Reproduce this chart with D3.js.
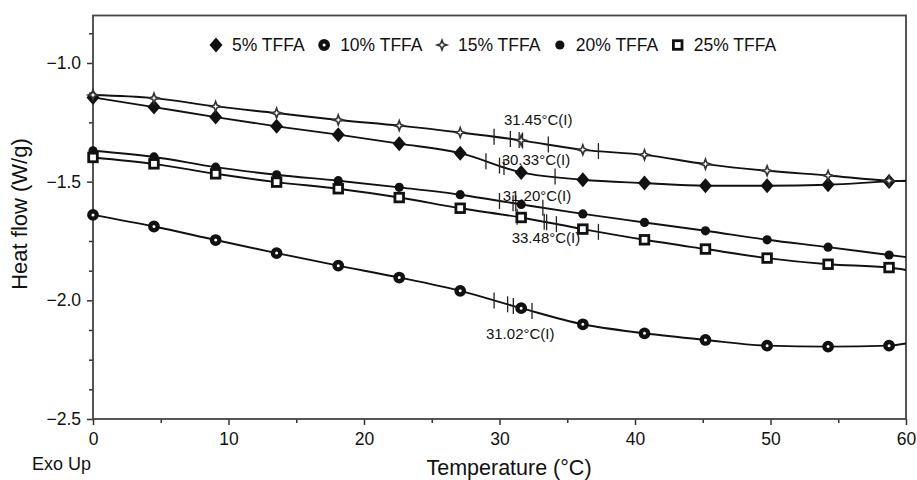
<!DOCTYPE html>
<html>
<head>
<meta charset="utf-8">
<script src="https://cdn.jsdelivr.net/npm/d3@7"></script>
<style>
  body { margin: 0; background: #fff; }
  svg { display: block; font-family: "Liberation Sans", Arial, sans-serif; }
</style>
</head>
<body>
<div id="plot"></div>
<script>
// DSC heat flow curves for TFFA blends

// Temperatures where the markers sit (last one is the curve end at 60 °C)
const temps = [0, 4.5, 9.05, 13.55, 18.1, 22.6, 27.1, 31.6, 36.15, 40.7, 45.2, 49.75, 54.25, 58.75, 60];

// Heat flow (W/g) per series
const tffa5  = [-1.145, -1.186, -1.228, -1.267, -1.302, -1.340, -1.380, -1.461, -1.492, -1.506, -1.517, -1.517, -1.513, -1.499, -1.496];
const tffa10 = [-1.640, -1.689, -1.746, -1.801, -1.854, -1.904, -1.960, -2.033, -2.101, -2.139, -2.167, -2.191, -2.195, -2.191, -2.182];
const tffa15 = [-1.135, -1.148, -1.183, -1.211, -1.240, -1.264, -1.293, -1.326, -1.366, -1.387, -1.426, -1.454, -1.474, -1.496, -1.498];
const tffa20 = [-1.370, -1.396, -1.439, -1.471, -1.496, -1.524, -1.555, -1.596, -1.636, -1.672, -1.707, -1.745, -1.776, -1.809, -1.818];
const tffa25 = [-1.398, -1.425, -1.467, -1.502, -1.530, -1.567, -1.612, -1.651, -1.700, -1.745, -1.784, -1.822, -1.848, -1.862, -1.872];

// Glass transition markers (onset / inflection / end) on each curve, °C
const ticks5  = [29.0, 30.0, 30.33, 34.1];
const ticks10 = [29.6, 30.6, 31.02, 32.4];
const ticks15 = [29.6, 30.8, 31.45, 31.7, 33.6, 37.3];
const ticks20 = [30.0, 31.0, 31.2, 33.2];
const ticks25 = [31.3, 33.3, 33.48, 34.2, 37.3];

// Annotation text and where it sits (temperature, heat flow of baseline)
const noteText = ["31.45°C(I)", "30.33°C(I)", "31.20°C(I)", "33.48°C(I)", "31.02°C(I)"];
const noteT    = [30.33, 30.16, 30.24, 30.9, 29.0];
const noteV    = [-1.261, -1.430, -1.581, -1.759, -2.164];

const seriesNames = ["5% TFFA", "10% TFFA", "15% TFFA", "20% TFFA", "25% TFFA"];
const xTicks = [0, 10, 20, 30, 40, 50, 60];
const yTicks = [-2.5, -2.0, -1.5, -1.0];

const series = [
  {name: seriesNames[0], values: tffa5,  marks: ticks5,  shape: "diamond"},
  {name: seriesNames[1], values: tffa10, marks: ticks10, shape: "ring"},
  {name: seriesNames[2], values: tffa15, marks: ticks15, shape: "star"},
  {name: seriesNames[3], values: tffa20, marks: ticks20, shape: "dot"},
  {name: seriesNames[4], values: tffa25, marks: ticks25, shape: "square"}
];

const W = 917, H = 480;
const plot = {left: 93, right: 906, top: 15.5, bottom: 419};

const svg = d3.select("#plot").append("svg")
  .attr("width", W)
  .attr("height", H);

const x = d3.scaleLinear().domain([0, 60]).range([plot.left, plot.right]);
const y = d3.scaleLinear().domain([-2.5, -0.8]).range([plot.bottom, plot.top]);

// Minor ticks
svg.append("g")
  .attr("transform", `translate(0,${plot.bottom})`)
  .call(d3.axisBottom(x).tickValues(d3.range(5, 60, 10)).tickSize(4).tickFormat(""))
  .call(g => g.select(".domain").remove());

svg.append("g")
  .attr("transform", `translate(${plot.left},0)`)
  .call(d3.axisLeft(y).tickValues(d3.range(-2.5, -0.8, 0.125).filter(v => Math.abs(v * 2 - Math.round(v * 2)) > 1e-6)).tickSize(4).tickFormat(""))
  .call(g => g.select(".domain").remove());

// Major ticks and labels
svg.append("g")
  .attr("class", "x-axis")
  .attr("transform", `translate(0,${plot.bottom})`)
  .call(d3.axisBottom(x).tickValues(xTicks).tickSize(6).tickPadding(8).tickFormat(d3.format("d")))
  .call(g => g.select(".domain").remove());

svg.append("g")
  .attr("class", "y-axis")
  .attr("transform", `translate(${plot.left},0)`)
  .call(d3.axisLeft(y).tickValues(yTicks).tickSize(6).tickPadding(6).tickFormat(d3.format(".1f")))
  .call(g => g.select(".domain").remove());

svg.selectAll(".tick text")
  .attr("font-size", "17.5px")
  .attr("font-family", "Liberation Sans, Arial, sans-serif")
  .attr("fill", "#111");
svg.selectAll(".tick line").attr("stroke", "#333").attr("stroke-width", 1.5);

// Frame
svg.append("rect")
  .attr("x", plot.left)
  .attr("y", plot.top)
  .attr("width", plot.right - plot.left)
  .attr("height", plot.bottom - plot.top)
  .attr("fill", "none")
  .attr("stroke", "#444")
  .attr("stroke-width", 1.8);

// Marker drawing
function starPath(ro, ri) {
  const pts = [];
  for (let i = 0; i < 8; i++) {
    const a = i * Math.PI / 4 - Math.PI / 2;
    const r = i % 2 === 0 ? ro : ri;
    pts.push([r * Math.cos(a), r * Math.sin(a)]);
  }
  return "M" + pts.map(p => p.join(",")).join("L") + "Z";
}

function drawMarker(g, shape) {
  if (shape === "diamond") {
    g.append("path").attr("d", "M0,-7.5L6.5,0L0,7.5L-6.5,0Z").attr("fill", "#111");
  } else if (shape === "ring") {
    g.append("circle").attr("r", 3.7).attr("fill", "#fff").attr("stroke", "#111").attr("stroke-width", 4.4);
  } else if (shape === "star") {
    g.append("path").attr("d", starPath(5, 1.9)).attr("fill", "#fff").attr("stroke", "#333").attr("stroke-width", 1.6);
  } else if (shape === "dot") {
    g.append("circle").attr("r", 4.6).attr("fill", "#111");
  } else if (shape === "square") {
    g.append("rect").attr("x", -4.3).attr("y", -4.3).attr("width", 8.6).attr("height", 8.6)
      .attr("fill", "#fff").attr("stroke", "#111").attr("stroke-width", 2.8);
  }
}

const line = d3.line()
  .x(d => x(d[0]))
  .y(d => y(d[1]))
  .curve(d3.curveMonotoneX);

series.forEach(s => {
  const pts = temps.map((t, i) => [t, s.values[i]]);
  const along = d3.scaleLinear().domain(temps).range(s.values);

  svg.append("path")
    .datum(pts)
    .attr("d", line)
    .attr("fill", "none")
    .attr("stroke", "#111")
    .attr("stroke-width", 1.9);

  // transition tick marks crossing the curve
  svg.selectAll(null)
    .data(s.marks)
    .enter()
    .append("line")
    .attr("x1", d => x(d))
    .attr("x2", d => x(d))
    .attr("y1", d => y(along(d)) - 8)
    .attr("y2", d => y(along(d)) + 8)
    .attr("stroke", "#222")
    .attr("stroke-width", 1.3);

  // symbols at every marker temperature except the curve end
  pts.slice(0, -1).forEach(p => {
    const g = svg.append("g").attr("transform", `translate(${x(p[0])},${y(p[1])})`);
    drawMarker(g, s.shape);
  });
});

// Annotations
svg.selectAll(".note")
  .data(noteText)
  .enter()
  .append("text")
  .attr("class", "note")
  .attr("x", (d, i) => x(noteT[i]))
  .attr("y", (d, i) => y(noteV[i]))
  .attr("font-size", "15px")
  .attr("fill", "#111")
  .text(d => d);

// Legend
let lx = 216;
series.forEach(s => {
  const g = svg.append("g").attr("transform", `translate(${lx},45)`);
  drawMarker(g, s.shape);
  const t = svg.append("text")
    .attr("x", lx + 16)
    .attr("y", 51)
    .attr("font-size", "17.5px")
    .attr("fill", "#111")
    .text(s.name);
  lx += 16 + t.node().getComputedTextLength() + 19.5;
});

// Axis titles
svg.append("text")
  .attr("x", 509)
  .attr("y", 475)
  .attr("text-anchor", "middle")
  .attr("font-size", "21.5px")
  .attr("fill", "#111")
  .text("Temperature (°C)");

svg.append("text")
  .attr("transform", `translate(27,214) rotate(-90)`)
  .attr("text-anchor", "middle")
  .attr("font-size", "22px")
  .attr("fill", "#111")
  .text("Heat flow (W/g)");

svg.append("text")
  .attr("x", 32)
  .attr("y", 470)
  .attr("font-size", "18px")
  .attr("fill", "#111")
  .text("Exo Up");
</script>
</body>
</html>
